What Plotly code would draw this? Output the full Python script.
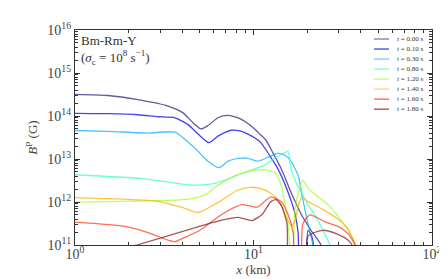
import plotly.graph_objects as go

times = ["0.00", "0.10", "0.30", "0.80", "1.20", "1.40", "1.60", "1.80"]
colors = ["rgba(72,61,139,0.85)", "rgba(20,20,235,0.8)", "rgba(0,170,255,0.7)",
          "rgba(60,255,190,0.75)", "rgba(160,255,40,0.75)", "rgba(255,175,0,0.75)",
          "rgba(255,60,30,0.75)", "rgba(140,30,30,0.75)"]
legend_colors = ["rgba(72,61,139,0.6)", "rgba(20,20,235,0.7)", "rgba(0,170,255,0.5)",
                 "rgba(60,255,190,0.6)", "rgba(160,255,40,0.6)", "rgba(255,200,80,0.7)",
                 "rgba(255,60,30,0.7)", "rgba(140,30,30,0.7)"]

# radius x (km) and poloidal field B^P (G) for each time
x_t000 = [1.00, 1.53, 2.25, 3.32, 4.03, 4.58, 5.08, 5.56, 6.32, 7.20, 8.40, 9.94, 10.9, 11.7, 12.9, 14.3, 16.2, 18.5, 21.0, 23.9, 24.9]
b_t000 = [3.2e14, 3.0e14, 2.4e14, 1.7e14, 1.18e14, 7.0e13, 5.0e13, 6.0e13, 9.1e13, 1.03e14, 8.7e13, 5.4e13, 3.7e13, 2.8e13, 1.35e13, 5.9e12, 1.7e12, 5.2e11, 2.2e11, 1.0e11, 5e10]

x_t010 = [1.00, 1.53, 2.25, 2.92, 3.63, 4.30, 4.89, 5.63, 6.32, 7.48, 8.40, 9.31, 10.9, 12.4, 13.7, 15.6, 17.1, 17.8, 18.2, 19.2, 20.2, 21.2, 22.6]
b_t010 = [1.15e14, 1.13e14, 1.07e14, 9.6e13, 9.1e13, 6.3e13, 3.8e13, 2.4e13, 3.4e13, 4.66e13, 4.5e13, 3.8e13, 2.5e13, 1.15e13, 5.9e12, 1.7e12, 5.2e11, 1.86e11, 2e10, 2e10, 2.2e11, 1.6e11, 3e10]

x_t030 = [1.00, 1.53, 2.56, 3.63, 4.70, 5.56, 6.41, 7.20, 8.19, 9.31, 10.6, 12.1, 13.7, 15.0, 16.2, 17.8, 18.9, 20.2, 21.5, 22.1]
b_t030 = [4.6e13, 4.4e13, 4.0e13, 4.2e13, 1.77e13, 8.9e12, 6.3e12, 8.9e12, 1.03e13, 1.04e13, 8.9e12, 1.1e13, 1.35e13, 1.22e13, 8.9e12, 4.1e12, 1.13e12, 3.1e11, 1.0e11, 3e10]

x_t080 = [1.00, 2.37, 3.32, 4.52, 6.09, 8.62, 11.6, 12.9, 14.1, 15.6, 16.2, 17.3, 18.5, 20.2, 22.4, 24.5, 26.1, 26.8, 27.2]
b_t080 = [4.3e12, 3.5e12, 2.9e12, 2.45e12, 2.7e12, 4.6e12, 7.3e12, 9.9e12, 1.22e13, 1.5e13, 5.9e12, 2.9e12, 1.7e12, 8.7e11, 4.5e11, 2.2e11, 1.3e11, 1.0e11, 3e10]

x_t120 = [1.00, 1.53, 3.63, 4.52, 5.35, 6.09, 7.88, 9.68, 11.6, 13.2, 14.3, 15.0, 15.8, 16.4, 17.1, 18.0, 18.9, 20.2, 23.0, 26.1, 29.7, 33.8, 37.5, 38.4]
b_t120 = [9.9e11, 1.02e12, 1.1e12, 1.2e12, 1.47e12, 2.2e12, 4.1e12, 5.3e12, 5.6e12, 4.8e12, 2.45e12, 8.7e11, 1.86e11, 1e10, 6.8e11, 1.9e12, 3.2e12, 2.1e12, 1.32e12, 8.7e11, 4.7e11, 2.2e11, 1.0e11, 3e10]

x_t140 = [1.00, 1.53, 2.92, 3.98, 4.89, 6.32, 8.19, 9.68, 11.2, 12.5, 14.1, 15.0, 16.0, 16.4, 17.1, 17.8, 18.7, 20.2, 23.9, 29.7, 33.8, 37.0, 38.0]
b_t140 = [1.27e12, 1.2e12, 1.04e12, 7.5e11, 5.7e11, 9.7e11, 1.9e12, 2.2e12, 2.0e12, 1.6e12, 9.7e11, 5.2e11, 3.1e11, 2.8e11, 3.6e11, 8.3e11, 1.26e12, 1.02e12, 7.1e11, 4.0e11, 2.4e11, 1.0e11, 3e10]

x_t160 = [1.00, 1.91, 2.56, 3.32, 3.63, 4.03, 5.01, 6.66, 8.62, 10.5, 12.5, 14.3, 15.6, 16.7, 17.1, 18.2, 18.9, 20.7, 25.2, 29.7, 33.8, 37.0, 38.0]
b_t160 = [3.4e11, 2.7e11, 1.95e11, 1.3e11, 1.2e11, 1.44e11, 2.2e11, 5.2e11, 8.7e11, 7.6e11, 1.32e12, 1.02e12, 5.2e11, 1.86e11, 1e10, 1e10, 3.1e11, 5.0e11, 3.45e11, 2.7e11, 1.86e11, 1.0e11, 3e10]

x_t180 = [1.00, 2.22, 4.52, 6.32, 8.19, 9.81, 11.2, 12.5, 13.4, 14.4, 15.4, 16.0, 19.2, 20.2, 24.5, 29.7, 33.8, 35.6, 36.5]
b_t180 = [3.7e10, 1.0e11, 2.4e11, 3.6e11, 4.4e11, 3.7e11, 5.2e11, 1.02e12, 1.13e12, 7.9e11, 3.1e11, 1e10, 1e10, 1.6e11, 2.2e11, 1.76e11, 1.3e11, 1.0e11, 3e10]

xs = [x_t000, x_t010, x_t030, x_t080, x_t120, x_t140, x_t160, x_t180]
bs = [b_t000, b_t010, b_t030, b_t080, b_t120, b_t140, b_t160, b_t180]

x_tickvals = [1, 10, 100]
x_ticktext = ["10<sup>0</sup>", "10<sup>1</sup>", "10<sup>2</sup>"]
y_tickvals = [1e11, 1e12, 1e13, 1e14, 1e15, 1e16]
y_ticktext = ["10<sup>11</sup>", "10<sup>12</sup>", "10<sup>13</sup>", "10<sup>14</sup>", "10<sup>15</sup>", "10<sup>16</sup>"]
x_minor = [m * d for d in [1, 10] for m in range(2, 10)]
y_minor = [m * d for d in [1e11, 1e12, 1e13, 1e14, 1e15] for m in range(2, 10)]

FONT = "Liberation Serif"

fig = go.Figure()
for t, c, x, b in zip(times, colors, xs, bs):
    fig.add_trace(go.Scatter(x=x, y=b, mode="lines", name=f"t = {t} s",
                             line=dict(color=c, width=1.3, shape="spline", smoothing=0.6),
                             showlegend=False))

# compact legend (top right, inside axes)
ly0, ldy = 0.958, 0.0466
for i, (t, c) in enumerate(zip(times, legend_colors)):
    yy = ly0 - i * ldy
    fig.add_shape(type="line", xref="paper", yref="paper", x0=0.8375, x1=0.8796,
                  y0=yy, y1=yy, line=dict(color=c, width=1.5))
    fig.add_annotation(xref="paper", yref="paper", x=0.8964, y=yy, xanchor="left",
                       yanchor="middle", showarrow=False,
                       text=f"<i>t</i> = {t} s", font=dict(family=FONT, size=7, color="#333"))

fig.add_annotation(xref="paper", yref="paper", x=0.012, y=0.995, xanchor="left", yanchor="top",
                   showarrow=False, align="left",
                   text="Bm-Rm-Y<br>(<i>σ</i><sub>c</sub> = 10<sup>8</sup> s<sup>−1</sup>)",
                   font=dict(family=FONT, size=13, color="#333"))

axis_common = dict(type="log", showgrid=False, zeroline=False, showline=True,
                   linecolor="#333", linewidth=1.3, mirror="allticks",
                   ticks="inside", ticklen=5, tickwidth=1, tickcolor="#333",
                   tickfont=dict(family=FONT, size=14, color="#444"))

fig.update_xaxes(range=[0, 2], tickmode="array", tickvals=x_tickvals, ticktext=x_ticktext,
                 ticklabelstandoff=-4,
                 minor=dict(tickmode="array", tickvals=x_minor, ticks="inside", ticklen=2.5,
                            tickwidth=0.8, tickcolor="#333", showgrid=False),
                 title=dict(text="<i>x</i> (km)", font=dict(family=FONT, size=13, color="#444"), standoff=0),
                 **axis_common)
fig.update_yaxes(range=[11, 16], tickmode="array", tickvals=y_tickvals, ticktext=y_ticktext,
                 minor=dict(tickmode="array", tickvals=y_minor, ticks="inside", ticklen=2.5,
                            tickwidth=0.8, tickcolor="#333", showgrid=False),
                 title=dict(text="<i>B</i><sup>P</sup> (G)", font=dict(family=FONT, size=13, color="#444"), standoff=6),
                 **axis_common)

fig.update_layout(width=447, height=279, margin=dict(l=67, r=23, t=14, b=42),
                  plot_bgcolor="white", paper_bgcolor="white", showlegend=False)

fig.write_html("out.html")
